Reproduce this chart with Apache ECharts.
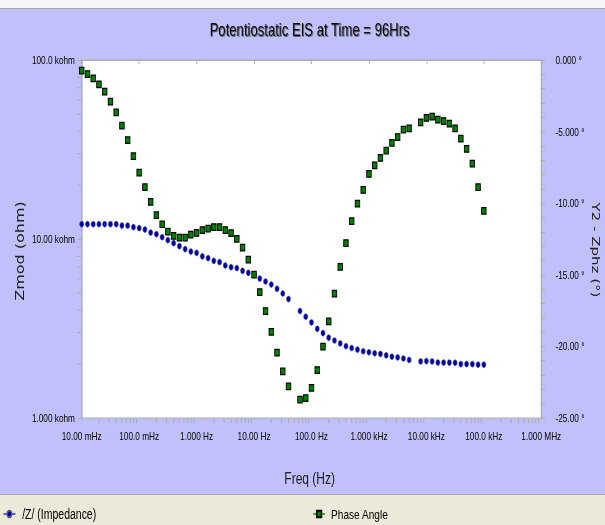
<!DOCTYPE html>
<html>
<head>
<meta charset="utf-8">
<script src="https://cdn.jsdelivr.net/npm/echarts@6/dist/echarts.min.js"></script>
<style>
  html, body { margin: 0; padding: 0; background: #ffffff; overflow: hidden; }
  #wrap { width: 605px; height: 525px; overflow: hidden; }
  /* the plot is laid out on a wider canvas and condensed horizontally */
  #chart { width: 807px; height: 525px; transform: scaleX(0.74969); transform-origin: 0 0; }
</style>
</head>
<body>
<div id="wrap"><div id="chart"></div></div>
<script>
// EIS sweep frequencies (Hz); the 50 Hz and 6.3 kHz points were not recorded
const freqHz = [
  0.01, 0.012589, 0.015849, 0.019953, 0.025119, 0.031623, 0.039811, 0.050119, 0.063096, 0.079433,
  0.1, 0.12589, 0.15849, 0.19953, 0.25119, 0.31623, 0.39811, 0.50119, 0.63096, 0.79433,
  1, 1.2589, 1.5849, 1.9953, 2.5119, 3.1623, 3.9811, 5.0119, 6.3096, 7.9433,
  10, 12.589, 15.849, 19.953, 25.119, 31.623, 39.811, 63.096, 79.433,
  100, 125.89, 158.49, 199.53, 251.19, 316.23, 398.11, 501.19, 630.96, 794.33,
  1000, 1258.9, 1584.9, 1995.3, 2511.9, 3162.3, 3981.1, 5011.9, 7943.3,
  10000, 12589, 15849, 19953, 25119, 31623, 39811, 50119, 63096, 79433, 100000
];

// |Z| in ohm
const zmodOhm = [
  12100, 12100, 12100, 12100, 12100, 12100, 12100, 11890, 11890, 11650,
  11500, 11290, 10860, 10640, 10240, 9850, 9480, 9120, 8780, 8510,
  8370, 8000, 7820, 7550, 7430, 7110, 6960, 6880, 6640, 6470,
  6310, 6010, 5790, 5570, 5270, 4960, 4620, 3960, 3680,
  3420, 3150, 2980, 2810, 2710, 2610, 2520, 2460, 2410, 2360,
  2330, 2300, 2280, 2240, 2200, 2180, 2150, 2110,
  2070, 2080, 2070, 2040, 2040, 2040, 2035, 2000, 2000, 2000, 1985, 1985
];

// Phase angle in degrees
const phaseDeg = [
  -0.75, -0.98, -1.28, -1.70, -2.21, -2.91, -3.65, -4.58, -5.60, -6.72,
  -7.86, -8.88, -9.91, -10.84, -11.47, -11.98, -12.28, -12.40, -12.40, -12.19,
  -12.07, -11.88, -11.77, -11.67, -11.67, -11.88, -12.09, -12.49, -13.11, -13.94,
  -14.98, -16.21, -17.54, -18.98, -20.43, -21.75, -22.80, -23.71, -23.61,
  -22.89, -21.65, -20.01, -18.26, -16.31, -14.45, -12.79, -11.25, -10.03, -9.07,
  -7.96, -7.35, -6.84, -6.33, -5.79, -5.39, -4.86, -4.77,
  -4.35, -4.05, -3.96, -4.17, -4.26, -4.45, -4.77, -5.49, -6.21, -7.24, -8.88, -10.54
];

const freqTicks = [0.01, 0.1, 1, 10, 100, 1000, 10000, 100000, 1000000];
const freqTickLabels = ['10.00 mHz', '100.0 mHz', '1.000 Hz', '10.00 Hz', '100.0 Hz',
  '1.000 kHz', '10.00 kHz', '100.0 kHz', '1.000 MHz'];
const zmodTicks = [1000, 10000, 100000];
const zmodTickLabels = ['1.000 kohm', '10.00 kohm', '100.0 kohm'];
const phaseTicks = [-25, -20, -15, -10, -5, 0];
const phaseTickLabels = ['-25.00 °', '-20.00 °', '-15.00 °', '-10.00 °', '-5.000 °', '0.000 °'];

const SANS = '"Liberation Sans", Arial, sans-serif';
const WIDE = '"DejaVu Sans", sans-serif';
const AXIS_GRAY = '#A8A8A8';
const BG = '#C0C0FA';

function logLabel(ticks, labels, v) {
  for (let i = 0; i < ticks.length; i++) {
    if (Math.abs(Math.log10(ticks[i]) - Math.log10(v)) < 1e-6) return labels[i];
  }
  return '';
}

// minor tick positions for the log axes (2..9 within each decade)
function decadeMinors(lo, hi) {
  const out = [];
  for (let d = lo; d < hi * 0.999; d *= 10) {
    for (let m = 2; m <= 9; m++) out.push(d * m);
  }
  return out;
}
const xMinor = decadeMinors(0.01, 1000000);
const yMinor = decadeMinors(1000, 100000);

const chart = echarts.init(document.getElementById('chart'), null, { renderer: 'svg' });

const option = {
  animation: false,
  backgroundColor: BG,
  grid: {
    left: 109, right: 85, top: 60, bottom: 107,
    show: true, backgroundColor: '#ffffff', borderColor: AXIS_GRAY, borderWidth: 1
  },
  graphic: [
    // top strip of the window frame
    { type: 'rect', shape: { x: 0, y: 0, width: 807, height: 8 }, style: { fill: '#F6F6F6' }, silent: true },
    { type: 'line', shape: { x1: 0, y1: 8.5, x2: 807, y2: 8.5 }, style: { stroke: '#A0A0A8', lineWidth: 1 }, silent: true },
    // legend band
    { type: 'rect', shape: { x: 0, y: 494, width: 807, height: 31 }, style: { fill: '#ECE9D8' }, silent: true, z: -1 },
    { type: 'line', shape: { x1: 0, y1: 494.5, x2: 807, y2: 494.5 }, style: { stroke: '#A0A0A0', lineWidth: 1 }, silent: true },
    // title
    {
      type: 'text', x: 413, y: 30,
      style: {
        text: 'Potentiostatic EIS at Time = 96Hrs',
        font: '17.5px ' + SANS, fill: '#000000', align: 'center', verticalAlign: 'middle',
        textShadowColor: 'rgba(60,60,60,0.75)', textShadowOffsetX: 1, textShadowOffsetY: 1, textShadowBlur: 0.5
      }
    },
    // axis names
    {
      type: 'text', x: 413, y: 478,
      style: { text: 'Freq (Hz)', font: '16px ' + SANS, fill: '#202020', align: 'center', verticalAlign: 'middle' }
    },
    {
      type: 'text', x: 27, y: 251, rotation: Math.PI / 2,
      style: { text: 'Zmod (ohm)', font: '16px ' + WIDE, fill: '#202020', align: 'center', verticalAlign: 'middle' }
    },
    {
      type: 'text', x: 795, y: 250, rotation: -Math.PI / 2,
      style: { text: 'Y2 - Zphz (°)', font: '15px ' + WIDE, fill: '#202020', align: 'center', verticalAlign: 'middle' }
    }
  ],
  legend: [
    {
      left: 4, top: 507, padding: 0, data: ['/Z/ (Impedance)'],
      itemWidth: 16, itemHeight: 8, itemGap: 4,
      textStyle: { fontFamily: SANS, fontSize: 14, color: '#000000', padding: [0, 0, 0, 4] },
      lineStyle: { opacity: 1, width: 1.2, color: '#0000A8' }
    },
    {
      left: 417, top: 507, padding: 0, data: ['Phase Angle'],
      itemWidth: 16, itemHeight: 8, itemGap: 4,
      textStyle: { fontFamily: SANS, fontSize: 13.5, color: '#000000', padding: [0, 0, 0, 3] },
      lineStyle: { opacity: 1, width: 1.2, color: '#006000' }
    }
  ],
  xAxis: {
    type: 'log', logBase: 10, min: 0.01, max: 1000000, splitNumber: 8,
    axisLine: { show: true, lineStyle: { color: AXIS_GRAY } },
    axisTick: { show: true, inside: false, length: 4, lineStyle: { color: AXIS_GRAY } },
    splitLine: { show: false },
    axisLabel: {
      margin: 13, fontFamily: SANS, fontSize: 11, color: '#000000',
      formatter: v => logLabel(freqTicks, freqTickLabels, v)
    }
  },
  yAxis: [
    {
      type: 'log', logBase: 10, min: 1000, max: 100000, splitNumber: 2, position: 'left',
      axisLine: { show: true, lineStyle: { color: AXIS_GRAY } },
      axisTick: { show: true, inside: false, length: 5, lineStyle: { color: AXIS_GRAY } },
      splitLine: { show: false },
      axisLabel: {
        margin: 9, fontFamily: SANS, fontSize: 11, color: '#000000',
        formatter: v => logLabel(zmodTicks, zmodTickLabels, v)
      }
    },
    {
      type: 'value', min: -25, max: 0, interval: 5, position: 'right',
      axisLine: { show: true, lineStyle: { color: AXIS_GRAY } },
      axisTick: { show: true, inside: false, length: 5, lineStyle: { color: AXIS_GRAY } },
      minorTick: { show: true, splitNumber: 5, length: 5, lineStyle: { color: AXIS_GRAY } },
      splitLine: { show: false },
      axisLabel: {
        margin: 19, fontFamily: SANS, fontSize: 11, color: '#000000',
        formatter: v => {
          const i = phaseTicks.indexOf(v);
          return i >= 0 ? phaseTickLabels[i] : '';
        }
      }
    }
  ],
  series: [
    {
      type: 'custom', xAxisIndex: 0, yAxisIndex: 0, silent: true, clip: false, z: 1,
      data: xMinor.map(v => [v, 1000]),
      renderItem: (params, api) => {
        const p = api.coord([api.value(0), api.value(1)]);
        return { type: 'line', shape: { x1: p[0], y1: p[1] + 1, x2: p[0], y2: p[1] + 5 },
          style: { stroke: AXIS_GRAY, lineWidth: 1 } };
      }
    },
    {
      type: 'custom', xAxisIndex: 0, yAxisIndex: 0, silent: true, clip: false, z: 1,
      data: yMinor.map(v => [0.01, v]),
      renderItem: (params, api) => {
        const p = api.coord([api.value(0), api.value(1)]);
        return { type: 'line', shape: { x1: p[0] - 6, y1: p[1], x2: p[0] - 1, y2: p[1] },
          style: { stroke: AXIS_GRAY, lineWidth: 1 } };
      }
    },
    {
      name: '/Z/ (Impedance)', type: 'line', xAxisIndex: 0, yAxisIndex: 0, z: 3,
      data: freqHz.map((f, i) => [f, zmodOhm[i]]),
      symbol: 'circle', symbolSize: [5.5, 6], showSymbol: true, showAllSymbol: true,
      lineStyle: { opacity: 0 },
      itemStyle: { color: '#0000A8', borderColor: '#55558A', borderWidth: 0.6 }
    },
    {
      name: 'Phase Angle', type: 'line', xAxisIndex: 0, yAxisIndex: 1, z: 4,
      data: freqHz.map((f, i) => [f, phaseDeg[i]]),
      symbol: 'rect', symbolSize: [6, 6.5], showSymbol: true, showAllSymbol: true,
      lineStyle: { opacity: 0 },
      itemStyle: { color: '#008000', borderColor: '#000000', borderWidth: 1.2 }
    }
  ]
};

chart.setOption(option);
</script>
</body>
</html>
